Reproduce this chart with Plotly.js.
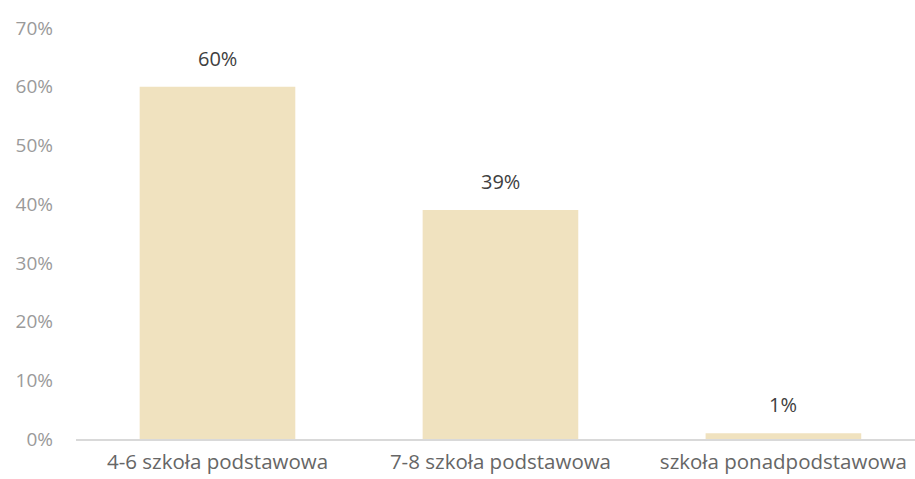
<!DOCTYPE html>
<html>
<head>
<meta charset="utf-8">
<script src="https://cdn.plot.ly/plotly-3.0.1.min.js"></script>
<style>html,body{margin:0;padding:0;background:#fff;}#chart{width:915px;height:479px;}</style>
</head>
<body>
<div id="chart"></div>
<script>
const categories = ["4-6 szkoła podstawowa", "7-8 szkoła podstawowa", "szkoła ponadpodstawowa"];
const values = [0.60, 0.39, 0.01];
const valueLabels = ["60%", "39%", "1%"];
const yTickVals = [0, 0.1, 0.2, 0.3, 0.4, 0.5, 0.6, 0.7];
const yTickText = ["0%", "10%", "20%", "30%", "40%", "50%", "60%", "70%"];

const trace = {
  type: "bar",
  x: categories,
  y: values,
  width: 0.55,
  marker: {color: "#F0E2BF"},
  hoverinfo: "skip"
};

const annotations = categories.map((c, i) => ({
  x: c, y: values[i], xref: "x", yref: "y",
  text: valueLabels[i], showarrow: false,
  yanchor: "bottom", yshift: 13,
  font: {family: "Open Sans, sans-serif", size: 20, color: "#404040"}
}));

const layout = {
  width: 915, height: 479,
  margin: {l: 76, r: 0, t: 28, b: 40},
  paper_bgcolor: "#fff", plot_bgcolor: "#fff",
  showlegend: false,
  xaxis: {
    type: "category",
    range: [-0.5, 2.465],
    showgrid: false, zeroline: false,
    showline: true, linecolor: "#D9D9D9", linewidth: 1.5,
    ticks: "", ticklabelstandoff: 4,
    tickfont: {family: "Open Sans, sans-serif", size: 20.5, color: "#666666"},
    fixedrange: true
  },
  yaxis: {
    range: [0, 0.7],
    tickvals: yTickVals, ticktext: yTickText,
    showgrid: false, zeroline: false, showline: false,
    ticks: "", ticklabelstandoff: 22,
    tickfont: {family: "Open Sans, sans-serif", size: 19, color: "#9A9A9A"},
    fixedrange: true
  },
  annotations: annotations
};

Plotly.newPlot("chart", [trace], layout, {displayModeBar: false, staticPlot: true});
</script>
</body>
</html>
